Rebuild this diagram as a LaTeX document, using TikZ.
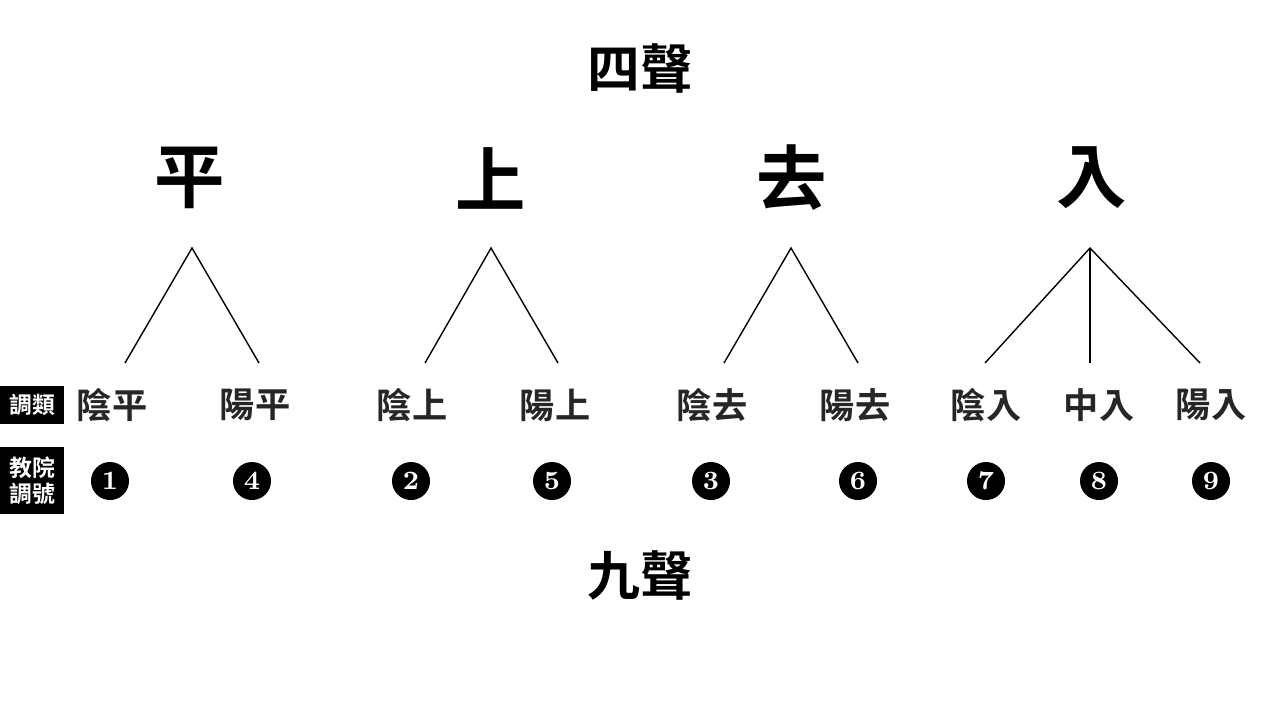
\documentclass[tikz,border=0pt]{standalone}
\usepackage{fontspec}
\newfontfamily\cjk{Noto Sans CJK TC}[BoldFont={* Bold}]
\begin{document}
\begin{tikzpicture}[x=0.01cm,y=-0.01cm,
    title/.style={font=\cjk\bfseries\fontsize{15}{15}\selectfont},
    tone/.style={font=\cjk\bfseries\fontsize{20}{20}\selectfont},
    sub/.style={font=\cjk\bfseries\fontsize{10}{10}\selectfont, text=black!85},
    num/.style={circle, fill=black, text=white, inner sep=0pt, minimum size=0.38cm,
      font=\bfseries\fontsize{7.5}{7.5}\selectfont},
    tag/.style={fill=black, text=white, inner sep=0pt, font=\cjk\bfseries\fontsize{6.5}{7.5}\selectfont, align=center}]
    \useasboundingbox (0,0) rectangle (1280,720);
    \node[title] (si) at (640,68) {四聲};
    \node[title] (jiu) at (640,575) {九聲};
    % four tones
    \node[tone] (ping) at (190,178) {平};
    \node[tone] (shang) at (491,178) {上};
    \node[tone] (qu) at (792,178) {去};
    \node[tone] (ru) at (1092,178) {入};
    \coordinate (aping) at (192,248);
    \coordinate (ashang) at (491,248);
    \coordinate (aqu) at (791,248);
    \coordinate (aru) at (1090,248);
    % sub tones
    \foreach \n/\x/\t in {ypA/112/陰平, ypB/255/陽平, ysA/412/陰上, ysB/555/陽上,
        yqA/712/陰去, yqB/855/陽去, yrA/986/陰入, yrM/1099/中入, yrB/1211/陽入} {
      \node[sub] (\n) at (\x,405) {\t};
    }
    \foreach \n/\x/\t in {c1/110/1, c4/252/4, c2/411/2, c5/552/5, c3/711/3,
        c6/858/6, c7/986/7, c8/1099/8, c9/1211/9} {
      \node[num] (\n) at (\x,481) {\t};
    }
    \coordinate (ep1) at (125,363); \coordinate (ep2) at (259,363);
    \coordinate (es1) at (425,363); \coordinate (es2) at (558,363);
    \coordinate (eq1) at (724,363); \coordinate (eq2) at (858,363);
    \coordinate (er1) at (985,363); \coordinate (er2) at (1090,363);
    \coordinate (er3) at (1200,363);
    \draw (ep1) -- (aping) -- (ep2);
    \draw (es1) -- (ashang) -- (es2);
    \draw (eq1) -- (aqu) -- (eq2);
    \draw (er1) -- (aru) -- (er3);
    \draw (aru) -- (er2);
    % row tags
    \node[tag, minimum width=0.64cm, minimum height=0.38cm] (lei) at (32,405) {調類};
    \node[tag, minimum width=0.64cm, minimum height=0.67cm] (hao) at (32,480.5) {教院\\調號};
\end{tikzpicture}
\end{document}
